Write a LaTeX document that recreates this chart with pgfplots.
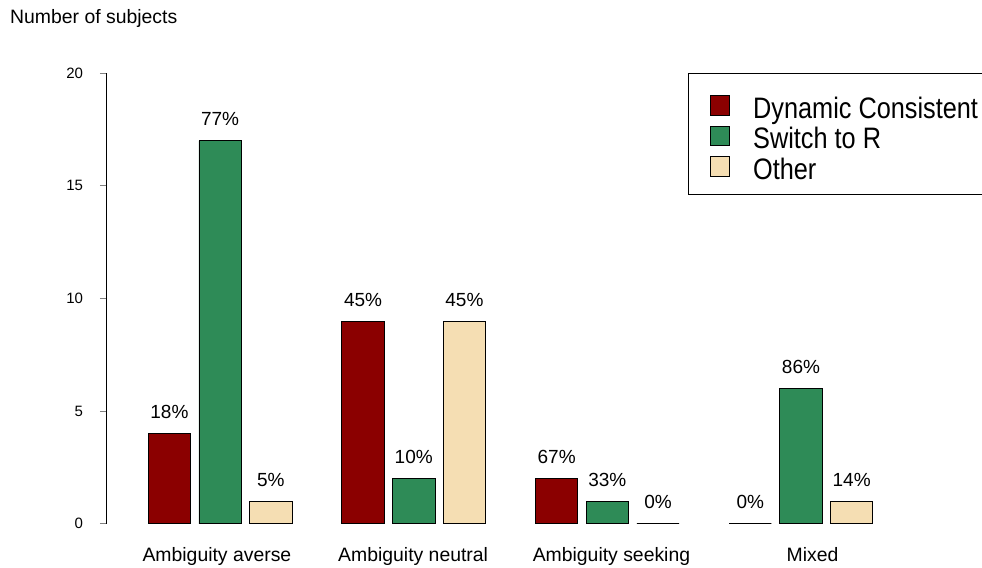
\documentclass[border=0pt]{standalone}
\usepackage{fontspec}
\setmainfont{Liberation Sans}
\usepackage{graphicx}
\usepackage{pgfplots}
\pgfplotsset{compat=1.18}

\definecolor{dyncons}{HTML}{8B0000}
\definecolor{switchr}{HTML}{2E8B57}
\definecolor{other}{HTML}{F5DEB3}

% legend text in the original is taller than it is wide
\newcommand{\tall}[1]{\scalebox{1}[1.17]{#1}}

\begin{document}
\begin{tikzpicture}
\begin{axis}[
  scale only axis,
  width=875.3pt, height=450.7pt,
  xmin=-0.586, xmax=3.933,
  ymin=0, ymax=20,
  clip=false,
  axis lines*=left,
  x axis line style={draw=none},
  y axis line style={line width=0.8pt},
  tick align=outside,
  major tick length=6.7pt,
  % group labels sit a little off the middle bars, as in the original
  xtick={-0.0165,0.9969,2.0212,3.0594},
  xticklabels={Ambiguity averse, Ambiguity neutral, Ambiguity seeking, Mixed},
  xtick style={draw=none},
  ytick style={line width=0.8pt},
  xticklabel style={font=\fontsize{19.4}{23}\selectfont, anchor=base, inner sep=0pt, yshift=-31pt},
  ytick={0,5,10,15,20},
  yticklabel style={font=\fontsize{15}{18}\selectfont, anchor=east, inner sep=0pt, xshift=-16.7pt},
  /pgf/number format/assume math mode=true,
  ylabel={Number of subjects},
  ylabel style={rotate=-90, at={(axis description cs:-0.11047,1.10939)}, anchor=base west, inner sep=0pt, font=\fontsize{19.4}{23}\selectfont},
  ybar,
  bar width=42.4pt,
  bar shift=0pt,
  point meta=explicit symbolic,
  nodes near coords,
  nodes near coords style={font=\fontsize{19}{23}\selectfont, anchor=base, inner sep=0pt, yshift=15pt},
  legend style={draw=none, fill=none, at={(axis description cs:0.6888,0.95341)}, anchor=north west,
    inner sep=0pt, row sep=0pt, column sep=23.6pt, font=\fontsize{25.3}{30}\selectfont,
    nodes={inner sep=0pt, text height=24pt, text depth=6.5pt, anchor=base west}},
  legend cell align=left,
  legend image code/.code={\draw[#1, line width=0.75pt] (0pt,3.3pt) rectangle (19.3pt,22.6pt);},
]
\addplot[fill=dyncons, draw=black, line width=0.75pt, bar shift=-50.7pt] coordinates {
  (0,4) [18\%] (1,9) [45\%] (2,2) [67\%] (3,0) [0\%]
};
\addplot[fill=switchr, draw=black, line width=0.75pt, bar shift=0pt] coordinates {
  (0,17) [77\%] (1,2) [10\%] (2,1) [33\%] (3,6) [86\%]
};
\addplot[fill=other, draw=black, line width=0.75pt, bar shift=50.7pt] coordinates {
  (0,1) [5\%] (1,9) [45\%] (2,0) [0\%] (3,1) [14\%]
};
\legend{\tall{Dynamic Consistent}, \tall{Switch to R}, \tall{Other}}

% legend frame, open on the right where the original is cut off
\draw[line width=0.75pt] (axis description cs:1,1) -- (axis description cs:0.66446,1)
  -- (axis description cs:0.66446,0.73153) -- (axis description cs:1,0.73153);
\path (axis description cs:-0.12190,-0.09763) rectangle (axis description cs:1,1.16263);
\end{axis}
\end{tikzpicture}
\end{document}
